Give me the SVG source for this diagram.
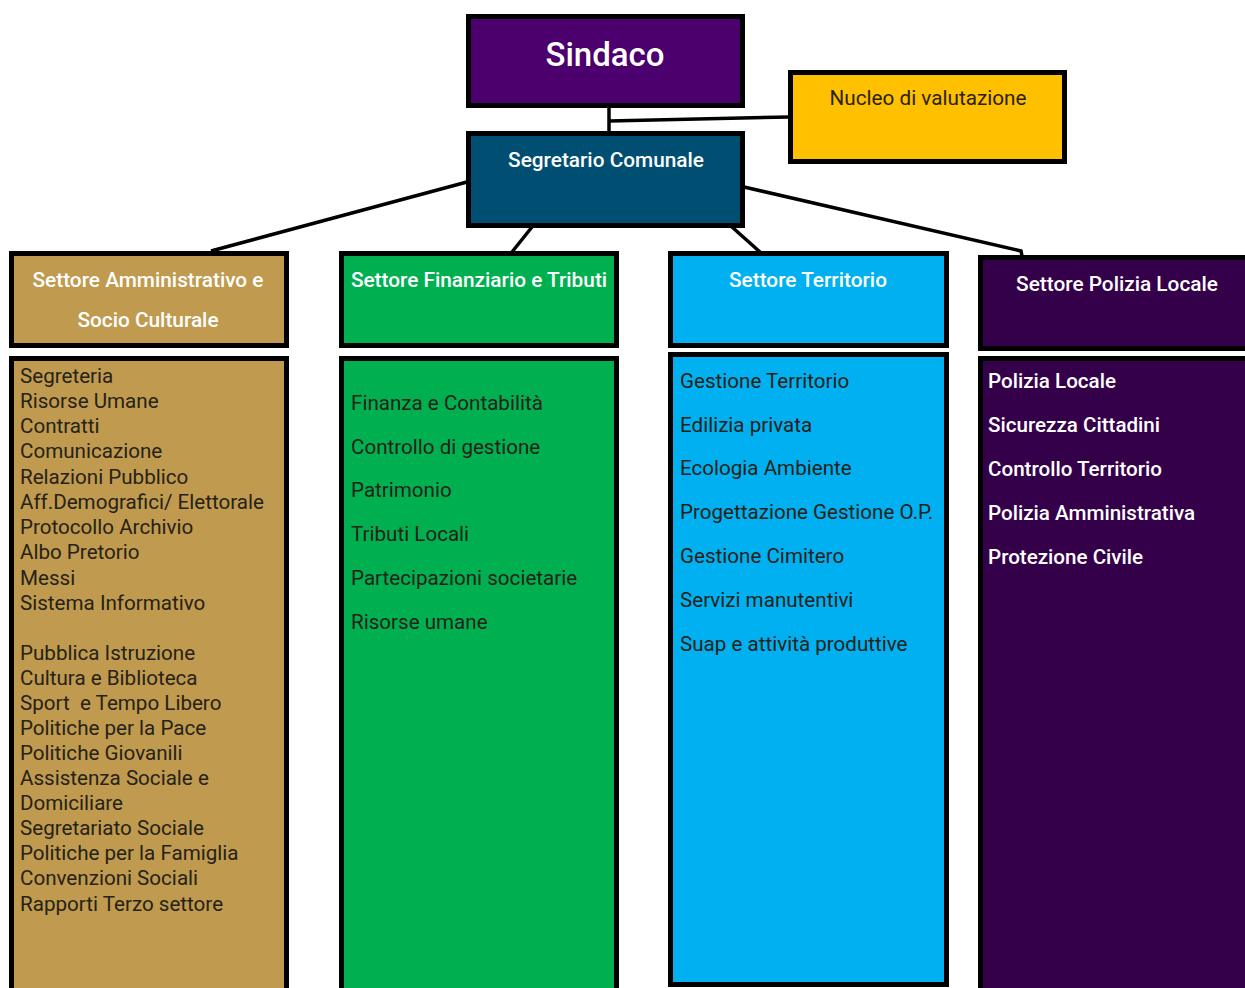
<svg xmlns="http://www.w3.org/2000/svg" width="1245" height="988" viewBox="0 0 1245 988">
<style>
.box{stroke:#000;stroke-width:5}
.hd{font-family:Roboto,"Liberation Sans",sans-serif;font-size:20.8px;font-weight:500;fill:#fff;text-anchor:middle}
.it{font-family:Roboto,"Liberation Sans",sans-serif;font-size:20.6px;fill:#262218}
.itw{font-family:Roboto,"Liberation Sans",sans-serif;font-size:20.6px;font-weight:500;fill:#fff}
.ln{stroke:#000;stroke-width:3.5;fill:none}
</style>
<rect width="1245" height="988" fill="#fff"/>
<g id="connectors">
<line class="ln" x1="609" y1="107" x2="609" y2="132"/>
<line class="ln" x1="609" y1="121" x2="789" y2="117"/>
<line class="ln" x1="467" y1="182" x2="211" y2="251"/>
<line class="ln" x1="532" y1="227" x2="512" y2="252"/>
<line class="ln" x1="732" y1="227" x2="760" y2="252"/>
<polyline class="ln" points="744,187 1021,251 1022,256"/>
</g>
<g id="sindaco">
<rect class="box" x="468.5" y="16.5" width="274" height="89" fill="#4B006E"/>
<text x="605" y="66" class="hd" style="font-size:33px">Sindaco</text>
</g>
<g id="nucleo">
<rect class="box" x="790.5" y="72.5" width="274" height="89" fill="#FFC000"/>
<text x="928" y="105" class="hd" style="fill:#2b2200;font-weight:400;font-size:20.7px">Nucleo di valutazione</text>
</g>
<g id="segretario">
<rect class="box" x="468.5" y="133.5" width="274" height="92" fill="#004E72"/>
<text x="606" y="167" class="hd">Segretario Comunale</text>
</g>
<g id="settore-amministrativo">
<rect class="box" x="11.5" y="253.5" width="275" height="92" fill="#C09A4E"/>
<text x="148" y="287" class="hd">Settore Amministrativo e</text>
<text x="148" y="327" class="hd">Socio Culturale</text>
<rect class="box" x="11.5" y="358.5" width="275" height="635" fill="#C09A4E"/>
<text class="it" x="20" y="383">Segreteria</text>
<text class="it" x="20" y="408">Risorse Umane</text>
<text class="it" x="20" y="433">Contratti</text>
<text class="it" x="20" y="458">Comunicazione</text>
<text class="it" x="20" y="484">Relazioni Pubblico</text>
<text class="it" x="20" y="509">Aff.Demografici/ Elettorale</text>
<text class="it" x="20" y="534">Protocollo Archivio</text>
<text class="it" x="20" y="559">Albo Pretorio</text>
<text class="it" x="20" y="585">Messi</text>
<text class="it" x="20" y="610">Sistema Informativo</text>
<text class="it" x="20" y="660">Pubblica Istruzione</text>
<text class="it" x="20" y="685">Cultura e Biblioteca</text>
<text class="it" x="20" y="710" style="white-space:pre">Sport  e Tempo Libero</text>
<text class="it" x="20" y="735">Politiche per la Pace</text>
<text class="it" x="20" y="760">Politiche Giovanili</text>
<text class="it" x="20" y="785">Assistenza Sociale e</text>
<text class="it" x="20" y="810">Domiciliare</text>
<text class="it" x="20" y="835">Segretariato Sociale</text>
<text class="it" x="20" y="860">Politiche per la Famiglia</text>
<text class="it" x="20" y="885">Convenzioni Sociali</text>
<text class="it" x="20" y="911">Rapporti Terzo settore</text>
</g>
<g id="settore-finanziario">
<rect class="box" x="341.5" y="253.5" width="275" height="92" fill="#00B050"/>
<text x="479" y="287" class="hd">Settore Finanziario e Tributi</text>
<rect class="box" x="341.5" y="358.5" width="275" height="635" fill="#00B050"/>
<text class="it" x="351" y="410">Finanza e Contabilità</text>
<text class="it" x="351" y="454">Controllo di gestione</text>
<text class="it" x="351" y="497">Patrimonio</text>
<text class="it" x="351" y="541">Tributi Locali</text>
<text class="it" x="351" y="585">Partecipazioni societarie</text>
<text class="it" x="351" y="629">Risorse umane</text>
</g>
<g id="settore-territorio">
<rect class="box" x="670.5" y="253.5" width="276" height="92" fill="#00B0F0"/>
<text x="808" y="287" class="hd">Settore Territorio</text>
<rect class="box" x="670.5" y="354.5" width="276" height="630" fill="#00B0F0"/>
<text class="it" x="680" y="388">Gestione Territorio</text>
<text class="it" x="680" y="432">Edilizia privata</text>
<text class="it" x="680" y="475">Ecologia Ambiente</text>
<text class="it" x="680" y="519">Progettazione Gestione O.P.</text>
<text class="it" x="680" y="563">Gestione Cimitero</text>
<text class="it" x="680" y="607">Servizi manutentivi</text>
<text class="it" x="680" y="651">Suap e attività produttive</text>
</g>
<g id="settore-polizia">
<rect class="box" x="980.5" y="257.5" width="275" height="91" fill="#34004A"/>
<text x="1117" y="291" class="hd">Settore Polizia Locale</text>
<rect class="box" x="980.5" y="358.5" width="275" height="635" fill="#34004A"/>
<text class="itw" x="988" y="388">Polizia Locale</text>
<text class="itw" x="988" y="432">Sicurezza Cittadini</text>
<text class="itw" x="988" y="476">Controllo Territorio</text>
<text class="itw" x="988" y="520">Polizia Amministrativa</text>
<text class="itw" x="988" y="564">Protezione Civile</text>
</g>
</svg>
